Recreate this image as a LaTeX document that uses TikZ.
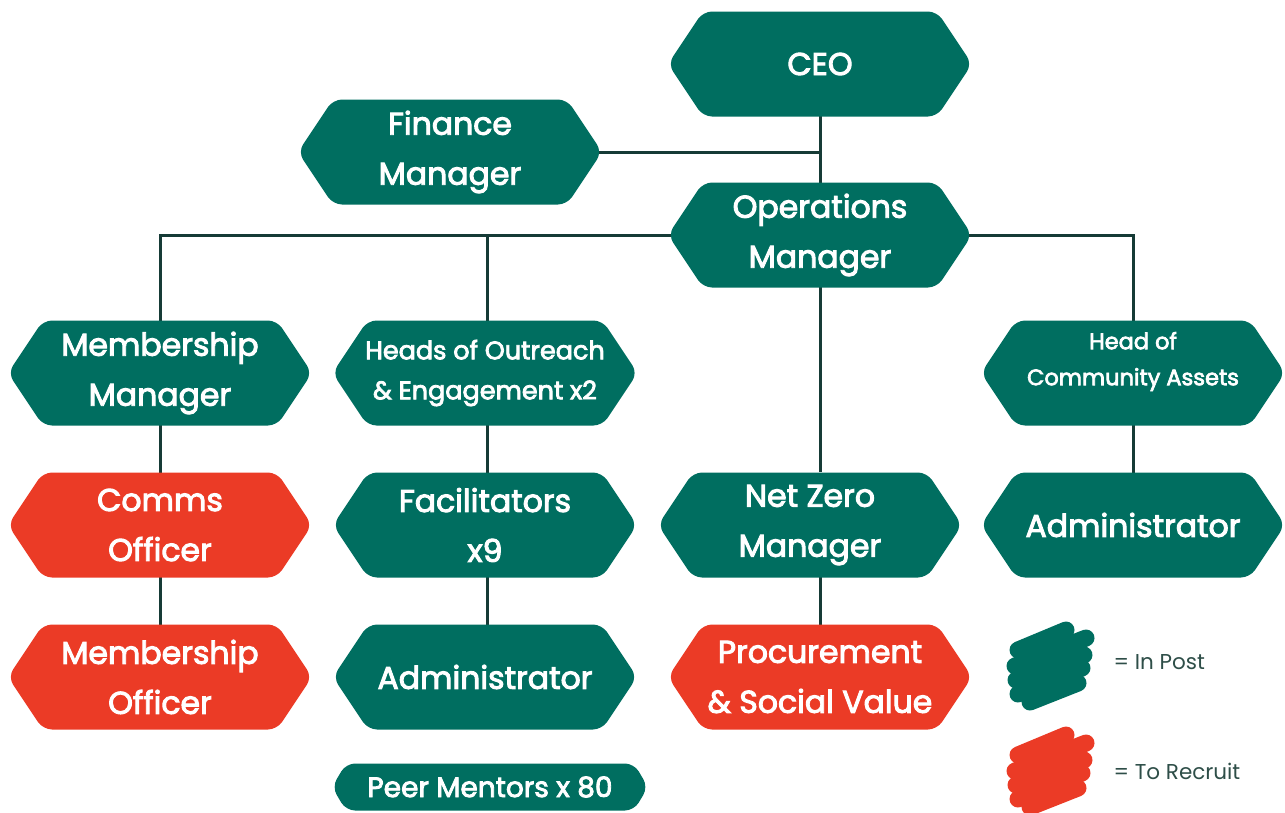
\documentclass[tikz,border=0pt]{standalone}
\usepackage{fontspec}
\setmainfont{Poppins}[UprightFeatures={FakeBold=3}]
\newfontfamily\legfont{Poppins}
\usetikzlibrary{calc,backgrounds}
\definecolor{tealc}{HTML}{006E60}
\definecolor{redc}{HTML}{EB3B26}
\definecolor{linec}{HTML}{163B36}
\definecolor{legtext}{HTML}{2E4E48}
\tikzset{
  hexbox/.style n args={4}{minimum width=#3, minimum height=#4, inner sep=0pt, text=white, align=center,
    path picture={\fill[#1, rounded corners=9pt] (path picture bounding box.north)
      -- ([xshift=-#2]path picture bounding box.north east)
      -- (path picture bounding box.east)
      -- ([xshift=-#2]path picture bounding box.south east)
      -- ([xshift=#2]path picture bounding box.south west)
      -- (path picture bounding box.west)
      -- ([xshift=#2]path picture bounding box.north west)
      -- cycle;}},
  big/.style={hexbox={#1}{35pt}{304pt}{105pt}, font=\fontsize{31.5}{50}\selectfont},
  conn/.style={draw=linec, line width=3pt},
  brush/.style={line width=17pt, line cap=round},
  legend/.style={anchor=west, text=legtext, font=\legfont\fontsize{21.5}{25}\selectfont}
}
\begin{document}
\begin{tikzpicture}[x=1pt,y=-1pt]
\useasboundingbox (0,0) rectangle (1285,812);
\node[big=tealc] (ceo) at (820,64) {CEO};
\node[big=tealc] (fin) at (450,152) {Finance\\Manager};
\node[big=tealc] (ops) at (820,235) {Operations\\Manager};
\node[big=tealc] (mem) at (160,373) {Membership\\Manager};
\node[hexbox={tealc}{35pt}{305pt}{105pt}, font=\fontsize{25.5}{40}\selectfont] (heads) at (485,373) {Heads of Outreach\\\& Engagement x2};
\node[hexbox={tealc}{35pt}{304pt}{105pt}] (hoc) at (1133,373) {\raisebox{13pt}[\height][\depth]{\fontsize{22.5}{36}\selectfont\begin{tabular}{@{}c@{}}Head of\\Community Assets\end{tabular}}};
\node[big=redc] (comms) at (160,525) {Comms\\Officer};
\node[big=tealc] (fac) at (485,525) {Facilitators\\x9};
\node[big=tealc] (nz) at (810,525) {Net Zero\\Manager};
\node[big=tealc] (adm2) at (1133,525) {Administrator};
\node[big=redc] (memo) at (160,677) {Membership\\Officer};
\node[big=tealc] (adm1) at (485,677) {Administrator};
\node[big=redc] (proc) at (820,677) {Procurement\\\& Social Value};
\node[hexbox={tealc}{14pt}{316pt}{47pt}, font=\fontsize{28}{32}\selectfont] (peer) at (490,787) {Peer Mentors x 80};
\begin{scope}[on background layer]
\draw[conn] (ceo.center) -- (ops.center);
\draw[conn] (fin.center) -- (fin.center -| ceo.center);
\draw[conn] (ops.center) -| (mem.center);
\draw[conn] (ops.center) -| (hoc.center);
\draw[conn] (ops.center) -| ([xshift=2pt]heads.center);
\draw[conn] (ops.center) -- (ops.center |- nz.north);
\draw[conn] (mem.center) -- (memo.center);
\draw[conn] ([xshift=2pt]heads.center) -- ([xshift=2pt]adm1.center);
\draw[conn] (nz.center -| ops.center) -- (proc.center);
\draw[conn] (hoc.center) -- (adm2.center);
\end{scope}
% legend
\begin{scope}[tealc]
\draw[brush] (1018,650) -- (1066,630);
\draw[brush] (1015,666) -- (1086,638);
\draw[brush] (1016,680) -- (1084,655);
\draw[brush] (1018,694) -- (1082,668);
\draw[brush] (1030,702) -- (1078,683);
\end{scope}
\begin{scope}[redc]
\draw[brush] (1018,755) -- (1066,735);
\draw[brush] (1015,771) -- (1086,743);
\draw[brush] (1016,785) -- (1084,760);
\draw[brush] (1018,799) -- (1082,773);
\draw[brush] (1030,807) -- (1078,788);
\end{scope}
\node[legend] (lin) at (1110,662) {= In Post};
\node[legend] (lrec) at (1110,771) {= To Recruit};
\end{tikzpicture}
\end{document}
